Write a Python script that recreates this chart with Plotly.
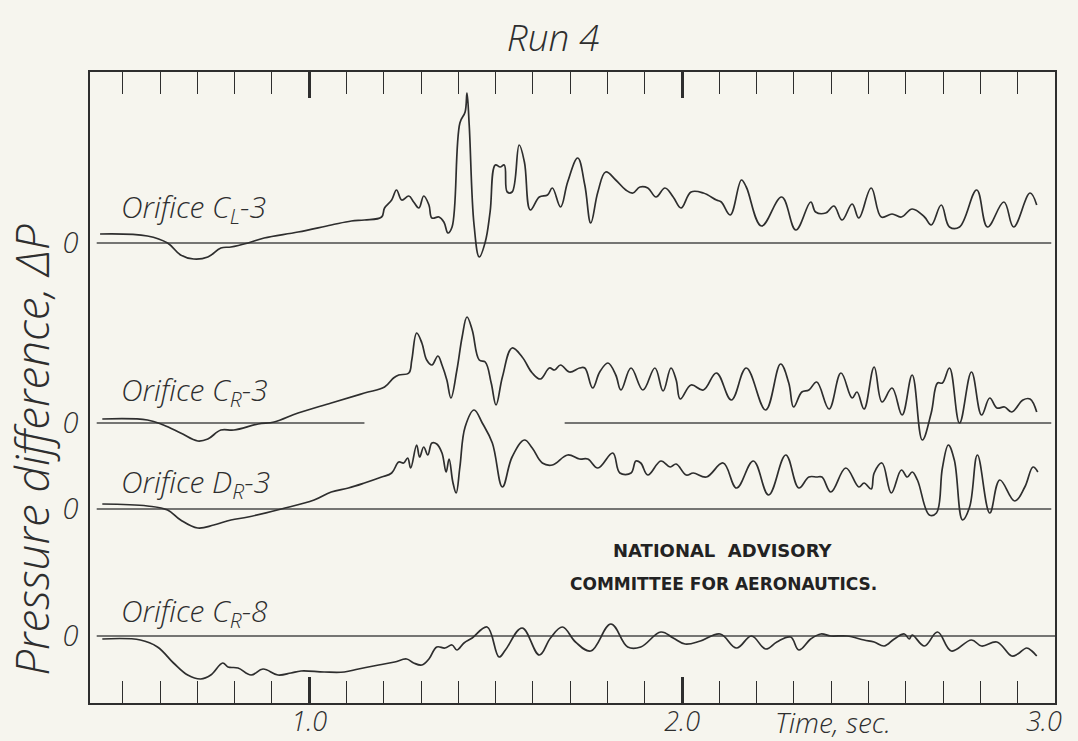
import plotly.graph_objects as go

# ---------------- data (time in s, pressure deviation in arbitrary chart units) ----------------
t_cl3 = [0.439,0.566,0.620,0.655,0.690,0.728,0.763,0.790,0.836,0.879,0.970,1.059,1.113,1.148,1.194,1.202,1.221,1.234,1.248,1.267,
         1.280,1.294,1.307,1.321,1.329,1.348,1.361,1.372,1.383,1.404,1.418,1.423,1.429,1.442,1.456,1.472,1.485,1.499,1.512,1.523,
         1.531,1.544,1.563,1.577,1.593,1.617,1.639,1.652,1.674,1.693,1.720,1.739,1.755,1.774,1.795,1.822,1.849,1.868,1.887,1.908,
         1.930,1.954,1.976,1.997,2.024,2.057,2.092,2.105,2.129,2.159,2.172,2.213,2.267,2.305,2.345,2.358,2.385,2.407,2.429,2.456,
         2.474,2.507,2.534,2.563,2.588,2.617,2.650,2.668,2.695,2.717,2.744,2.790,2.819,2.863,2.889,2.933,2.951]
dp_cl3 = [9,7,0,-12,-16,-14,-5,-4,0,5,11,18,22,23,26,35,43,53,43,47,
          41,35,47,38,25,26,21,10,16,120,131,150,118,18,-14,1,31,78,76,78,
          51,51,98,81,33,46,48,55,36,61,85,58,20,51,71,63,53,50,56,55,
          46,55,46,35,51,50,43,41,28,63,56,17,46,13,41,31,30,37,23,39,
          25,55,26,29,26,34,26,18,38,16,16,53,16,41,16,50,38]

t_cr3 = [0.445,0.566,0.609,0.655,0.701,0.728,0.763,0.798,0.863,0.906,0.970,1.059,1.148,1.202,1.226,1.240,1.267,1.275,1.288,1.302,
         1.315,1.329,1.345,1.356,1.369,1.380,1.396,1.410,1.423,1.437,1.456,1.472,1.488,1.501,1.518,1.544,1.571,1.598,1.620,1.644,
         1.658,1.674,1.698,1.725,1.739,1.760,1.779,1.801,1.822,1.836,1.863,1.895,1.927,1.949,1.970,1.984,1.995,2.024,2.057,2.092,
         2.132,2.172,2.224,2.264,2.286,2.299,2.321,2.340,2.361,2.394,2.426,2.456,2.469,2.488,2.515,2.536,2.563,2.590,2.617,2.644,
         2.668,2.685,2.698,2.717,2.744,2.776,2.803,2.825,2.844,2.865,2.884,2.914,2.933,2.951]
dp_cr3 = [4,3,-2,-10,-18,-16,-7,-7,-1,1,10,20,30,36,45,48,50,63,90,80,
          63,58,67,58,43,25,53,86,106,93,63,61,40,18,46,75,66,50,44,55,
          53,58,51,55,55,35,51,60,48,33,55,33,55,32,55,43,24,38,33,50,
          23,55,13,59,40,16,31,33,41,14,50,25,31,14,56,21,35,8,48,-17,
          10,40,40,55,0,51,8,25,15,16,11,23,24,11]

t_dr3 = [0.445,0.566,0.620,0.655,0.701,0.744,0.790,0.836,0.925,1.013,1.059,1.105,1.148,1.194,1.221,1.240,1.253,1.264,1.272,1.288,
         1.296,1.307,1.318,1.329,1.342,1.356,1.367,1.375,1.385,1.394,1.404,1.418,1.442,1.464,1.491,1.518,1.544,1.577,1.598,1.625,
         1.652,1.693,1.725,1.747,1.774,1.814,1.833,1.863,1.876,1.889,1.908,1.943,1.968,1.984,2.011,2.030,2.065,2.110,2.146,2.191,
         2.232,2.278,2.313,2.340,2.361,2.375,2.399,2.439,2.474,2.488,2.507,2.515,2.536,2.561,2.588,2.604,2.617,2.631,2.663,2.682,
         2.698,2.714,2.730,2.752,2.771,2.792,2.825,2.852,2.892,2.919,2.941,2.954]
dp_dr3 = [5,3,-1,-11,-19,-16,-11,-8,0,9,17,21,26,32,36,47,46,51,41,64,
          52,62,54,66,65,56,37,50,27,16,42,82,99,86,66,22,52,69,61,46,
          44,54,50,50,41,56,36,36,48,46,34,48,42,45,34,36,32,46,21,48,
          14,54,21,32,32,32,17,41,22,26,20,36,46,16,39,32,37,29,-6,-4,
          41,64,49,-11,2,54,-4,29,8,22,42,37]

t_cr8 = [0.445,0.547,0.593,0.636,0.674,0.709,0.736,0.768,0.782,0.809,0.844,0.876,0.916,0.951,0.978,1.040,1.094,1.132,1.186,1.229,
         1.261,1.280,1.302,1.321,1.342,1.364,1.383,1.396,1.415,1.437,1.477,1.509,1.526,1.571,1.617,1.647,1.679,1.714,1.755,1.809,
         1.854,1.889,1.943,1.976,2.008,2.049,2.102,2.146,2.186,2.224,2.254,2.291,2.313,2.345,2.372,2.399,2.442,2.488,2.515,2.542,
         2.569,2.596,2.609,2.617,2.650,2.685,2.722,2.776,2.803,2.844,2.884,2.900,2.924,2.938,2.951]
dp_cr8 = [-3,-4,-11,-27,-39,-43,-39,-27,-31,-32,-39,-33,-39,-37,-35,-36,-36,-33,-29,-26,
          -23,-27,-29,-23,-11,-12,-9,-14,-7,-2,9,-21,-14,8,-19,-2,9,-6,-15,12,
          -11,-11,4,-2,-8,-5,2,-12,0,-13,-6,-1,-14,-3,2,0,0,-4,-6,-10,
          -3,2,-3,1,-10,4,-15,-4,-10,-6,-20,-18,-12,-15,-20]

series_names = ["Orifice C<sub>L</sub>-3", "Orifice C<sub>R</sub>-3", "Orifice D<sub>R</sub>-3", "Orifice C<sub>R</sub>-8"]
series_t = [t_cl3, t_cr3, t_dr3, t_cr8]
series_dp = [dp_cl3, dp_cr3, dp_dr3, dp_cr8]
trace_offsets = [460, 280, 194, 67]          # vertical offset of each trace's zero line
zero_segments = [[(0.43, 2.99)], [(0.43, 1.148), (1.685, 2.99)], [(0.43, 2.99)], [(0.43, 3.0)]]
minor_ticks = [0.5,0.6,0.7,0.8,0.9,1.1,1.2,1.3,1.4,1.5,1.6,1.7,1.8,1.9,2.1,2.2,2.3,2.4,2.5,2.6,2.7,2.8,2.9]
major_ticks = [1.0, 2.0]
label_ticks = [1.0, 2.0, 2.97]
label_text = ["1.0", "2.0", "3.0"]

INK = "#2e2e2e"
PAPER = "#f6f5ee"
HAND = "Open Sans"

fig = go.Figure()
for name, ts, dps, off, segs in zip(series_names, series_t, series_dp, trace_offsets, zero_segments):
    for a, b in segs:
        fig.add_trace(go.Scatter(x=[a, b], y=[off, off], mode="lines",
                                 line=dict(color="#4a4a4a", width=1.3), showlegend=False, hoverinfo="skip"))
    fig.add_trace(go.Scatter(x=ts, y=[off + v for v in dps], mode="lines", name=name,
                             line=dict(color=INK, width=1.7, shape="spline", smoothing=1.1),
                             showlegend=False))

# invisible trace for the label axis
fig.add_trace(go.Scatter(x=[1.0], y=[0], xaxis="x2", mode="markers", marker=dict(opacity=0),
                         showlegend=False, hoverinfo="skip"))

hand_font = dict(family=HAND, color=INK, style="italic", weight=300)

fig.update_layout(
    width=1078, height=741,
    margin=dict(l=90, r=23, t=72, b=38),
    paper_bgcolor=PAPER, plot_bgcolor=PAPER,
    showlegend=False,
    title=dict(text="Run 4", x=553/1078, xref="container", xanchor="center",
               y=1-38/741, yref="container", yanchor="middle",
               font=dict(size=37, **hand_font)),
    xaxis=dict(range=[0.412, 3.0], showline=True, mirror="ticks", linecolor=INK, linewidth=1.6,
               showgrid=False, zeroline=False, automargin=False,
               tickmode="array", tickvals=major_ticks, showticklabels=False,
               ticks="inside", ticklen=26, tickwidth=2.6, tickcolor=INK,
               minor=dict(tickmode="array", tickvals=minor_ticks, ticks="inside", ticklen=22,
                          tickwidth=1.2, tickcolor=INK, showgrid=False)),
    xaxis2=dict(range=[0.412, 3.0], overlaying="x", side="bottom", anchor="y", showline=False,
                showgrid=False, zeroline=False, automargin=False, ticks="",
                tickmode="array", tickvals=label_ticks, ticktext=label_text,
                tickfont=dict(size=27, **hand_font)),
    yaxis=dict(range=[0, 631], showline=True, mirror=True, linecolor=INK, linewidth=1.6,
               showgrid=False, zeroline=False, automargin=False, ticks="",
               tickmode="array", tickvals=trace_offsets, ticktext=["0"] * 4,
               ticklabelstandoff=4, tickfont=dict(size=29, **hand_font)),
)

label_y = [495, 312, 220, 91]
for name, ly in zip(series_names, label_y):
    fig.add_annotation(x=0.49, y=ly, xref="x", yref="y", text=name, showarrow=False,
                       xanchor="left", yanchor="middle", font=dict(size=30, **hand_font))

fig.add_annotation(x=-0.062, y=0.40, xref="paper", yref="paper", text="Pressure difference, ΔP",
                   textangle=-90, showarrow=False, xanchor="center", yanchor="middle",
                   font=dict(size=46, **hand_font))
fig.add_annotation(x=0.770, y=-0.030, xref="paper", yref="paper", text="Time, sec.",
                   showarrow=False, xanchor="center", yanchor="middle", font=dict(size=28, **hand_font))
fig.add_annotation(x=0.656, y=0.241, xref="paper", yref="paper", text="NATIONAL\u00a0 ADVISORY",
                   showarrow=False, xanchor="center", yanchor="middle",
                   font=dict(family="DejaVu Sans", size=18, color="#222222", weight="bold"))
fig.add_annotation(x=0.656, y=0.189, xref="paper", yref="paper", text="COMMITTEE FOR AERONAUTICS.",
                   showarrow=False, xanchor="center", yanchor="middle",
                   font=dict(family="DejaVu Sans", size=17, color="#222222", weight="bold"))

fig.write_html("out.html", config={"displayModeBar": False},
               post_script="document.body.style.margin='0';document.body.style.overflow='hidden';")
